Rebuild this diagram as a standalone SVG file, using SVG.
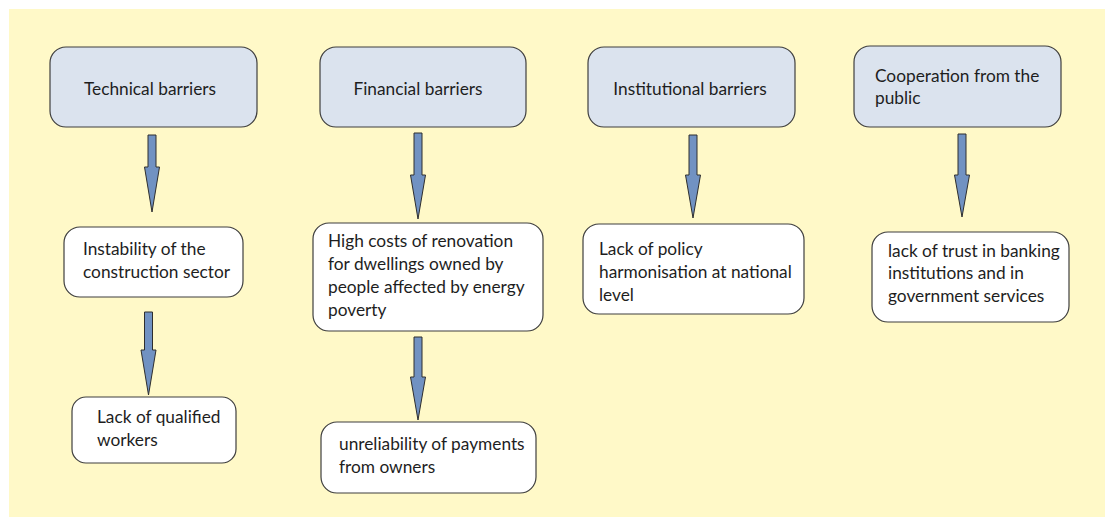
<svg xmlns="http://www.w3.org/2000/svg" width="1105" height="517" viewBox="0 0 1105 517">
<style>
.head{fill:#dbe3ee;stroke:#3f3f3f;stroke-width:1.2}
.box{fill:#ffffff;stroke:#3f3f3f;stroke-width:1.2}
.t{font-family:Lato,"Liberation Sans",sans-serif;font-size:17.3px;fill:#1e1e1e}
.arr{fill:#7192c2;stroke:#2e2e2e;stroke-width:1}
</style>
<rect x="0" y="0" width="1105" height="517" fill="#ffffff"/>
<rect x="9" y="9" width="1096" height="508" fill="#fff9c8"/>
<g id="connectors">
<path class="arr" d="M148,135 H156 V167 H159.5 L152,212 L144.5,167 H148 Z"/>
<path class="arr" d="M144.5,312 H152.5 V350 H156 L148.5,395 L141,350 H144.5 Z"/>
<path class="arr" d="M414,133 H422 V175 H425.5 L418,219 L410.5,175 H414 Z"/>
<path class="arr" d="M414,337 H422 V377 H425.5 L418,420 L410.5,377 H414 Z"/>
<path class="arr" d="M689,135 H697 V175 H700.5 L693,218 L685.5,175 H689 Z"/>
<path class="arr" d="M958,134 H966 V175 H969.5 L962,217 L954.5,175 H958 Z"/>
</g>
<g id="technical">
<rect class="head" x="50" y="47" width="207" height="80" rx="16"/>
<text class="t" x="150" y="95" text-anchor="middle">Technical barriers</text>
</g>
<g id="financial">
<rect class="head" x="320" y="47" width="206" height="80" rx="16"/>
<text class="t" x="418" y="95" text-anchor="middle">Financial barriers</text>
</g>
<g id="institutional">
<rect class="head" x="588" y="47" width="207" height="80" rx="16"/>
<text class="t" x="690" y="95" text-anchor="middle">Institutional barriers</text>
</g>
<g id="cooperation">
<rect class="head" x="854" y="46" width="207" height="81" rx="16"/>
<text class="t" x="875" y="82">Cooperation from the</text>
<text class="t" x="875" y="104">public</text>
</g>
<g id="instability">
<rect class="box" x="64" y="227" width="179" height="70" rx="16"/>
<text class="t" x="83" y="255">Instability of the</text>
<text class="t" x="83" y="278">construction sector</text>
</g>
<g id="qualified">
<rect class="box" x="72" y="397" width="164" height="66" rx="14"/>
<text class="t" x="97" y="423">Lack of qualified</text>
<text class="t" x="97" y="446">workers</text>
</g>
<g id="highcosts">
<rect class="box" x="313" y="223" width="230" height="108" rx="16"/>
<text class="t" x="328" y="247">High costs of renovation</text>
<text class="t" x="328" y="270">for dwellings owned by</text>
<text class="t" x="328" y="293">people affected by energy</text>
<text class="t" x="328" y="316">poverty</text>
</g>
<g id="unreliability">
<rect class="box" x="321" y="422" width="215" height="71" rx="16"/>
<text class="t" x="339" y="450">unreliability of payments</text>
<text class="t" x="339" y="473">from owners</text>
</g>
<g id="policy">
<rect class="box" x="583" y="224" width="221" height="90" rx="16"/>
<text class="t" x="599" y="255">Lack of policy</text>
<text class="t" x="599" y="278">harmonisation at national</text>
<text class="t" x="599" y="301">level</text>
</g>
<g id="trust">
<rect class="box" x="872" y="232" width="197" height="90" rx="16"/>
<text class="t" x="888" y="257">lack of trust in banking</text>
<text class="t" x="888" y="279">institutions and in</text>
<text class="t" x="888" y="302">government services</text>
</g>
</svg>
